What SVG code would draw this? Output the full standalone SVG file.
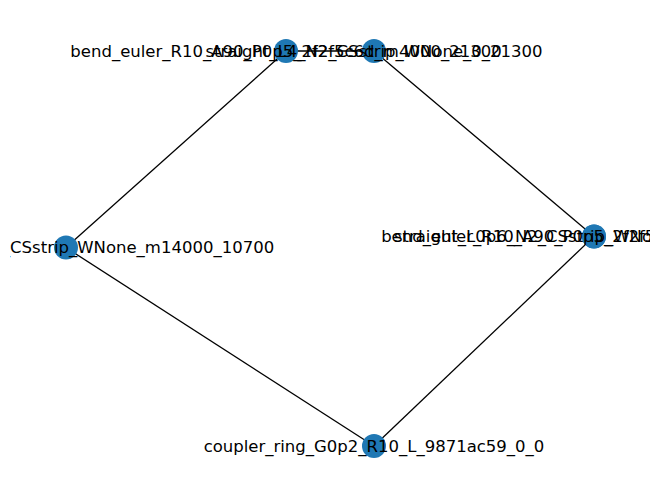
<svg xmlns="http://www.w3.org/2000/svg" width="660" height="499" viewBox="0 0 660 499">
<defs>
<clipPath id="axes"><rect x="10" y="10" width="640" height="480"/></clipPath>
</defs>
<style>
.edge{stroke:#000;stroke-width:1.3;fill:none}
.node{fill:#1f78b4}
.lbl{font-family:"DejaVu Sans",sans-serif;font-size:16.5px;fill:#000;text-anchor:middle}
</style>
<rect width="660" height="499" fill="#fff"/>
<g id="connectors">
<line class="edge" x1="374" y1="446" x2="66" y2="247.6"/>
<line class="edge" x1="66" y1="247.6" x2="286" y2="51"/>
<line class="edge" x1="286" y1="51" x2="374" y2="51"/>
<line class="edge" x1="374" y1="51" x2="594" y2="236.4"/>
<line class="edge" x1="594" y1="236.4" x2="374" y2="446"/>
</g>
<g id="coupler_ring">
<circle class="node" cx="374" cy="446" r="12"/>
</g>
<g id="straight_left">
<circle class="node" cx="66" cy="247.6" r="12"/>
</g>
<g id="bend_top_left">
<circle class="node" cx="286" cy="51" r="12"/>
</g>
<g id="straight_top">
<circle class="node" cx="374" cy="51" r="12"/>
</g>
<g id="bend_right">
<circle class="node" cx="594" cy="236.4" r="12"/>
</g>
<g id="straight_right">
<circle class="node" cx="594" cy="236.4" r="12"/>
</g>
<g id="labels" clip-path="url(#axes)">
<text class="lbl" x="374" y="451.5">coupler_ring_G0p2_R10_L_9871ac59_0_0</text>
<text class="lbl" x="66" y="253.1">straight_L0p6_N2_CSstrip_WNone_m14000_10700</text>
<text class="lbl" x="286" y="56.5">bend_euler_R10_A90_P0p5_2f2f5c6d_m4000_21300</text>
<text class="lbl" x="374" y="56.5">straight_L4_N2_CSstrip_WNone_0_21300</text>
<text class="lbl" x="594" y="241.9">bend_euler_R10_A90_P0p5_2f2f5c6d_10000_11300</text>
<text class="lbl" x="594" y="241.9">straight_L0p6_N2_CSstrip_WNone_10000_11300</text>
</g>
</svg>
